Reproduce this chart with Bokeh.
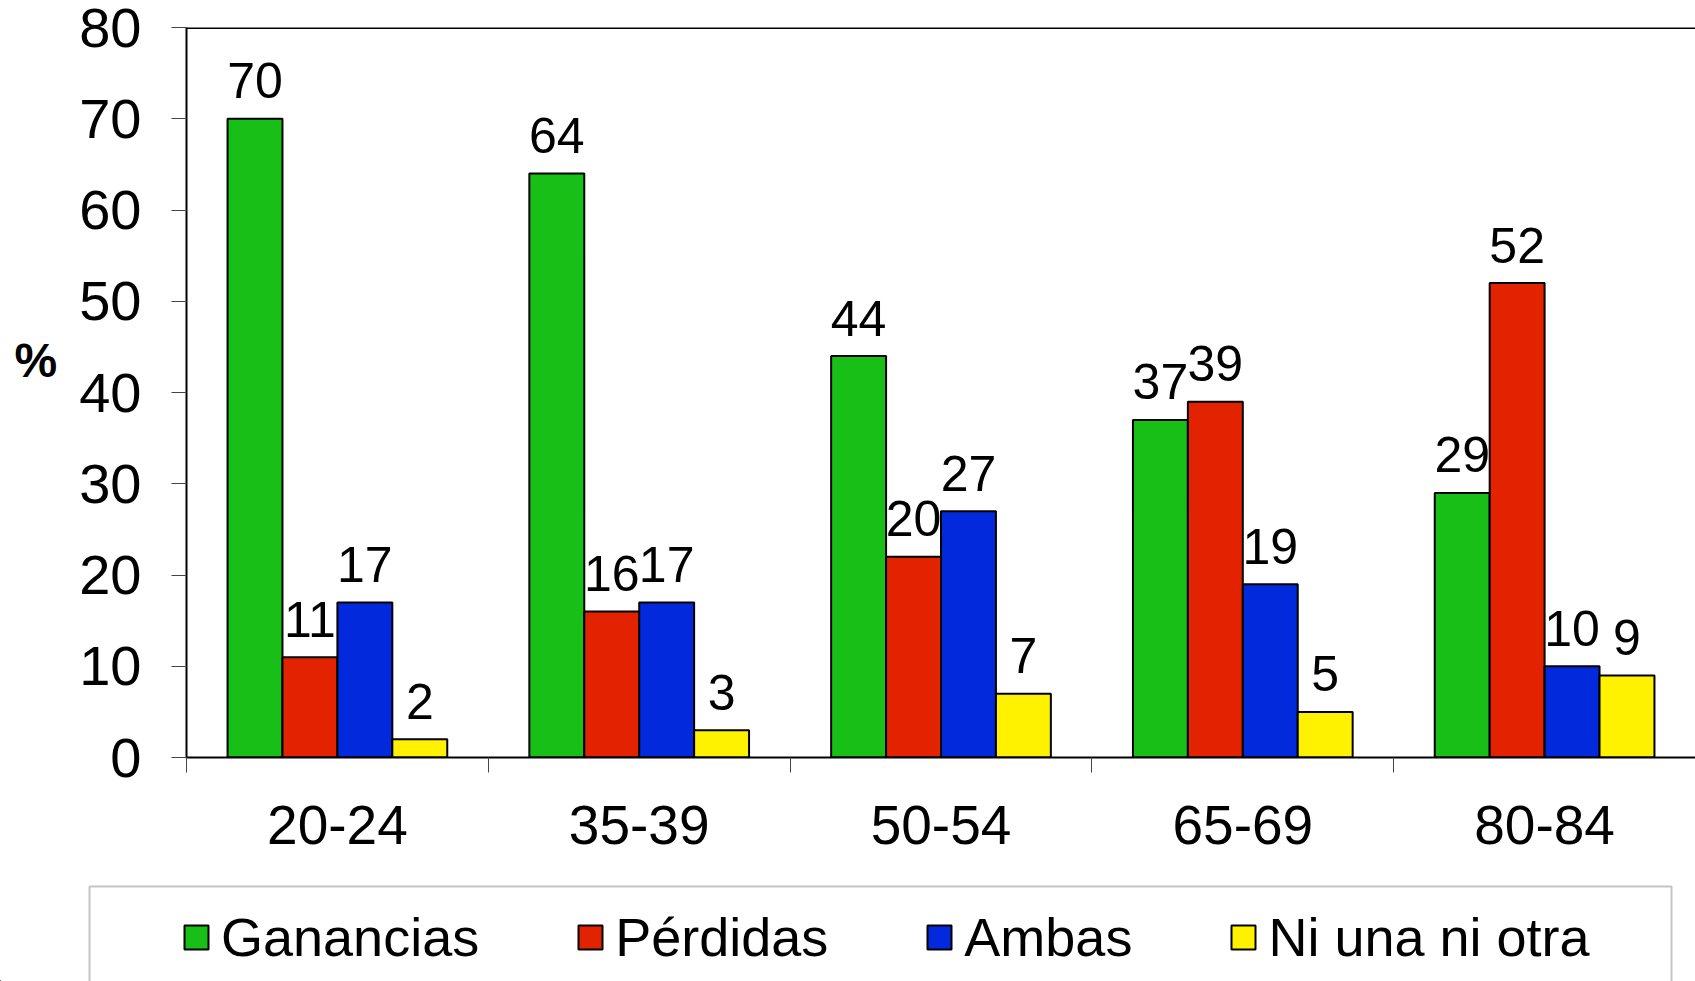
from bokeh.plotting import figure
from bokeh.layouts import column
from bokeh.models import (FixedTicker, Span, Legend, LegendItem,
                          ColumnDataSource, BoxAnnotation, Range1d)
from bokeh.core.properties import value
from bokeh.embed import file_html
from bokeh.resources import INLINE

# ---------------- data ----------------
categories = ["20-24", "35-39", "50-54", "65-69", "80-84"]
series_names = ["Ganancias", "Pérdidas", "Ambas", "Ni una ni otra"]

ganancias = [70, 64, 44, 37, 29]
perdidas = [11, 16, 22, 39, 52]
ambas = [17, 17, 27, 19, 10]
ninguna = [2, 3, 7, 5, 9]

ganancias_labels = ["70", "64", "44", "37", "29"]
perdidas_labels = ["11", "16", "20", "39", "52"]
ambas_labels = ["17", "17", "27", "19", "10"]
ninguna_labels = ["2", "3", "7", "5", "9"]

y_ticks = [0, 10, 20, 30, 40, 50, 60, 70, 80]
y_axis_label = "%"

colors = ["#17BF17", "#E32200", "#0229DC", "#FFF200"]

FONT = "Liberation Sans"

# ---------------- main chart ----------------
n = len(categories)
p = figure(width=1695, height=880, x_range=(0, n), y_range=(0, 80),
           output_backend="svg", toolbar_location=None,
           min_border_left=186, min_border_top=27, min_border_right=0,
           min_border_bottom=123)
p.frame_align = False
p.outline_line_color = None
p.grid.visible = False
p.background_fill_color = "white"
p.border_fill_color = "white"

bar_w = 0.182
all_vals = [ganancias, perdidas, ambas, ninguna]
all_labs = [ganancias_labels, perdidas_labels, ambas_labels, ninguna_labels]
for j, (vals, labs) in enumerate(zip(all_vals, all_labs)):
    xs = [i + 0.5 + (j - 1.5) * bar_w for i in range(n)]
    src = ColumnDataSource(dict(x=xs, top=vals, label=labs))
    p.vbar(x="x", top="top", bottom=0, width=bar_w, source=src,
           fill_color=colors[j], line_color="black", line_width=2)
    p.text(x="x", y="top", text="label", source=src,
           text_font=value(FONT), text_font_size="50px",
           text_align="center", text_baseline="alphabetic",
           y_offset=-38, text_color="black")

# x axis: labels at centres, ticks at group boundaries
xa = p.xaxis[0]
xa.ticker = FixedTicker(ticks=[i + 0.5 for i in range(n)],
                        minor_ticks=list(range(n + 1)))
xa.major_label_overrides = {i + 0.5: c for i, c in enumerate(categories)}
xa.major_tick_line_color = None
xa.major_tick_out = 0
xa.major_tick_in = 0
xa.minor_tick_out = 15
xa.minor_tick_in = 0
xa.minor_tick_line_color = "#444444"
xa.axis_line_color = "black"
xa.axis_line_width = 2
xa.major_label_text_font = FONT
xa.major_label_text_font_size = "55px"
xa.major_label_text_color = "black"
xa.major_label_standoff = 33

# y axis
ya = p.yaxis[0]
ya.ticker = FixedTicker(ticks=y_ticks)
ya.major_tick_out = 15
ya.major_tick_in = 0
ya.major_tick_line_color = "#444444"
ya.minor_tick_line_color = None
ya.axis_line_color = "black"
ya.axis_line_width = 2
ya.major_label_text_font = FONT
ya.major_label_text_font_size = "56px"
ya.major_label_text_color = "black"
ya.major_label_standoff = 30
ya.axis_label = y_axis_label + "\n "
ya.axis_label_orientation = "horizontal"
ya.axis_label_text_font = FONT
ya.axis_label_text_font_style = "bold"
ya.axis_label_text_font_size = "48px"
ya.axis_label_text_color = "black"
ya.axis_label_standoff = 19

# top border line
p.add_layout(Span(location=80, dimension="width", line_color="black", line_width=3))

# ---------------- legend strip ----------------
p2 = figure(width=1695, height=101, x_range=Range1d(0, 1695), y_range=Range1d(0, 101),
            output_backend="svg", toolbar_location=None,
            x_axis_location=None, y_axis_location=None,
            min_border=0)
p2.frame_align = False
p2.outline_line_color = None
p2.grid.visible = False
p2.background_fill_color = "white"
p2.border_fill_color = "white"

# legend swatches: renderers kept far outside the visible strip
dummy = []
for j in range(len(series_names)):
    dummy.append(p2.vbar(x=[-10000], top=[-9999], bottom=[-10000], width=1,
                         fill_color=colors[j], line_color="black", line_width=2))

p2.add_layout(BoxAnnotation(left=89, right=1671, top=95, bottom=-30,
                            fill_alpha=0, fill_color=None,
                            line_color="#404040", line_width=2))

legend = Legend(items=[LegendItem(label=nm, renderers=[r])
                       for nm, r in zip(series_names, dummy)],
                orientation="horizontal", location=(181, 13),
                padding=0, spacing=96, label_standoff=10, margin=0,
                glyph_width=30, glyph_height=30,
                label_text_font=FONT, label_text_font_size="54px",
                label_text_color="black",
                border_line_color=None, background_fill_alpha=0)
p2.add_layout(legend, "center")

layout = column(p, p2, spacing=0)
open("out.html", "w").write(file_html(layout, INLINE))
